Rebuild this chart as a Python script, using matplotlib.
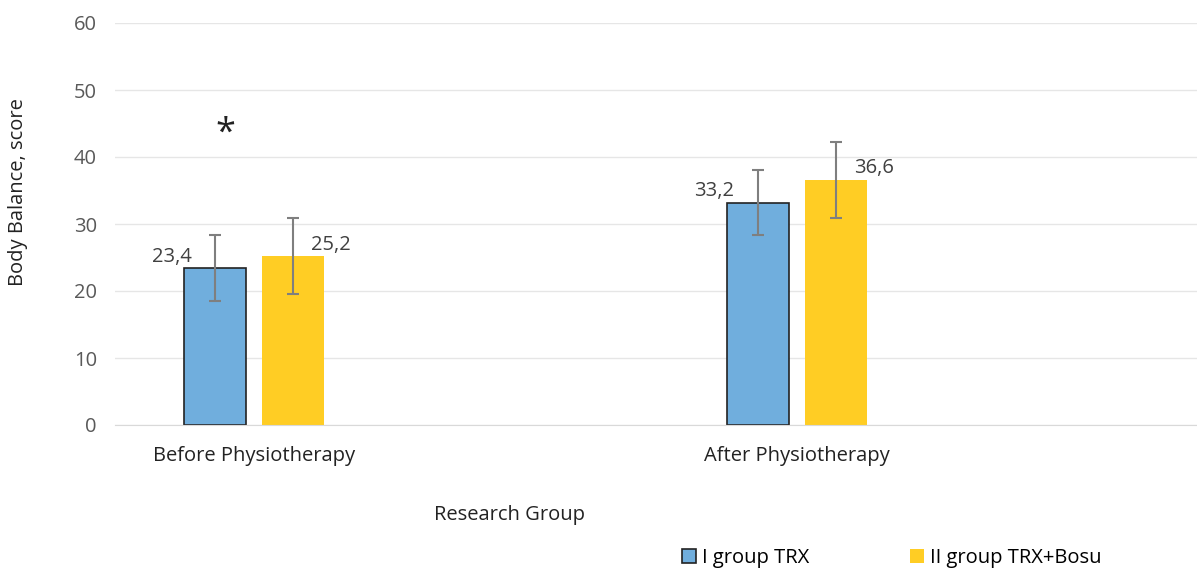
import numpy as np
import matplotlib.pyplot as plt
from matplotlib.patches import Patch

plt.rcParams['font.family'] = ['Open Sans', 'DejaVu Sans']

categories = ['Before Physiotherapy', 'After Physiotherapy']
trx        = [23.4, 33.2]   # I group TRX
trx_err    = [4.9, 4.8]
bosu       = [25.2, 36.6]   # II group TRX+Bosu
bosu_err   = [5.7, 5.7]
labels     = ['I group TRX', 'II group TRX+Bosu']

blue   = '#70AEDD'
yellow = '#FFCD24'
grey   = '#595959'
fs     = 14.5

fig = plt.figure(figsize=(11.97, 5.72), dpi=100)
ax  = fig.add_axes([115/1197, 1-425/572, 1-115/1197, 402/572])

x   = np.arange(len(categories))
w   = 0.114
off = 0.071

ax.bar(x-off, trx, w, color=blue, edgecolor='#222222', linewidth=1.2, zorder=2)
ax.bar(x+off, bosu, w, color=yellow, edgecolor='none', zorder=2)
ax.errorbar(x-off, trx, yerr=trx_err, fmt='none', ecolor='#7f7f7f', elinewidth=1.5, capsize=4, capthick=1.5, zorder=3)
ax.errorbar(x+off, bosu, yerr=bosu_err, fmt='none', ecolor='#7f7f7f', elinewidth=1.5, capsize=4, capthick=1.5, zorder=3)

# value labels: blue ones sit up-left of the bar, yellow ones up-right
for xi, v in zip(x-off, trx):
    ax.annotate(f'{v:.1f}'.replace('.', ','), (xi - w/2, v), xytext=(5, 1),
                textcoords='offset points', ha='right', va='bottom', fontsize=fs, color='#404040')
for xi, v in zip(x+off, bosu):
    ax.annotate(f'{v:.1f}'.replace('.', ','), (xi + w/2, v), xytext=(-9, 1),
                textcoords='offset points', ha='left', va='bottom', fontsize=fs, color='#404040')

ax.text(x[0]-off+0.018, 43.5, '*', ha='center', va='center', fontsize=26, color='#222222')

ax.set_ylim(0, 60)
ax.set_xlim((115-254)/543, (1197-254)/543)
ax.set_yticks(range(0, 61, 10))
ax.set_xticks(x)
ax.set_xticklabels(categories, fontsize=fs, color='#222222')
ax.tick_params(axis='y', length=0, pad=13, labelsize=fs, labelcolor=grey)
ax.tick_params(axis='x', length=0, pad=15)
ax.grid(axis='y', color='#e6e6e6', linewidth=1, zorder=0)
for s in ['top', 'right', 'left']:
    ax.spines[s].set_visible(False)
ax.spines['bottom'].set_color('#d9d9d9')

fig.text(18/1197, 1-192/572, 'Body Balance, score', rotation=90, ha='center', va='center',
         fontsize=fs, color='#222222')
fig.text(510/1197, 1-515/572, 'Research Group', ha='center', va='center', fontsize=fs, color='#222222')

handles = [Patch(facecolor=blue, edgecolor='#222222', linewidth=1.2),
           Patch(facecolor=yellow, edgecolor='none')]
fig.legend(handles, labels, loc='center', bbox_to_anchor=(892/1197, 1-558/572), ncol=2,
           frameon=False, fontsize=fs, handlelength=0.7, handleheight=0.7,
           handletextpad=0.3, columnspacing=5.0)

fig.savefig('out.png', dpi=100)
